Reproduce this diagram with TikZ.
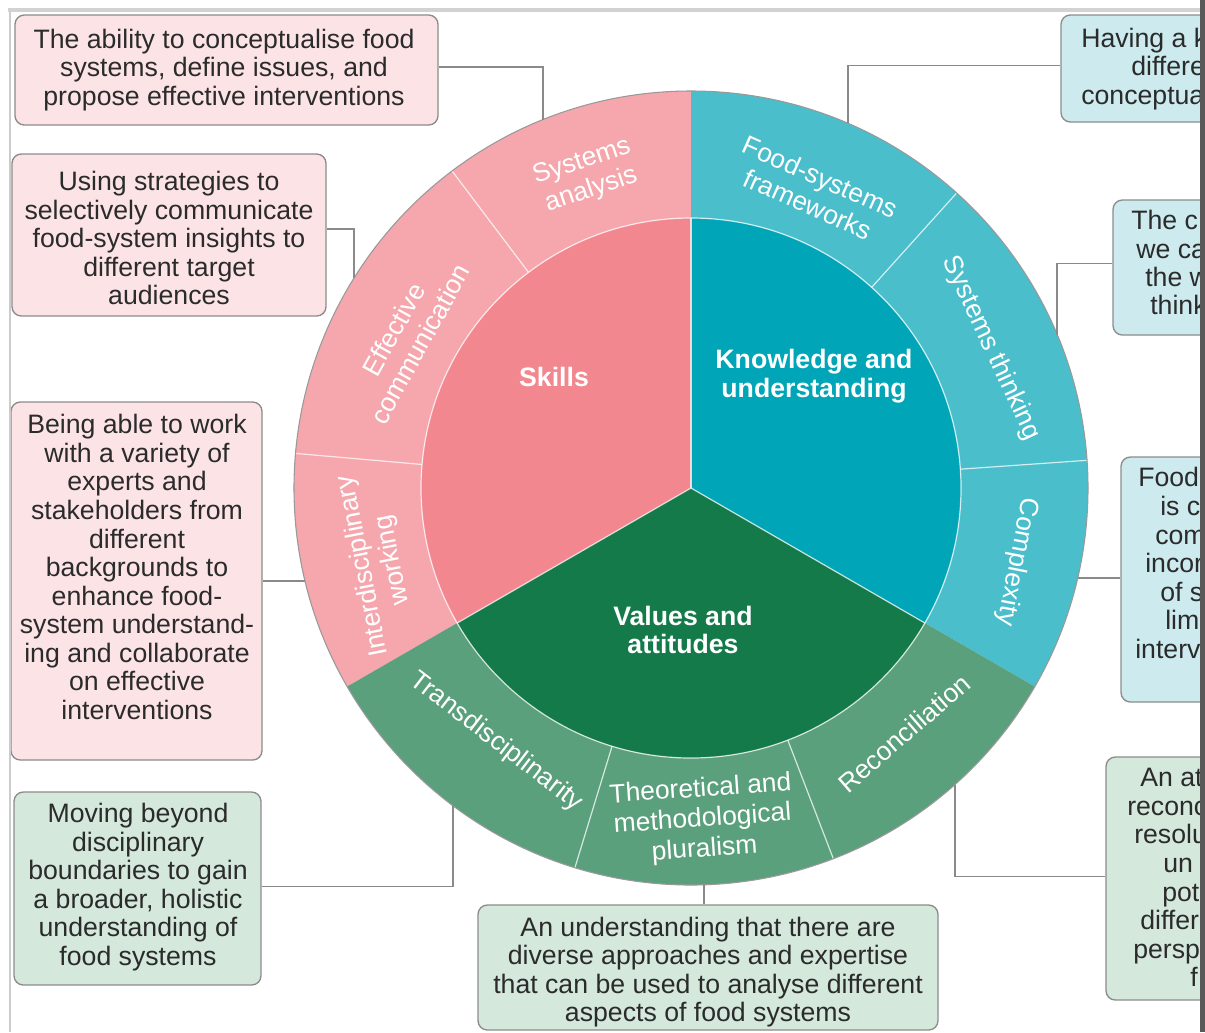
\documentclass[tikz,border=0pt]{standalone}
\usepackage{fontspec}
\setmainfont{Liberation Sans}
\usetikzlibrary{calc,fit}
\definecolor{skin}{HTML}{F2878F}
\definecolor{skout}{HTML}{F5A7AD}
\definecolor{knin}{HTML}{00A5B7}
\definecolor{knout}{HTML}{4BBECB}
\definecolor{vain}{HTML}{157A4A}
\definecolor{vaout}{HTML}{5AA07C}
\definecolor{pinkbox}{HTML}{FCE4E6}
\definecolor{cyanbox}{HTML}{CDEBEF}
\definecolor{greenbox}{HTML}{D4E8DC}
\definecolor{boxline}{HTML}{8C8C8C}
\definecolor{txtc}{HTML}{2B2B2B}
\definecolor{connc}{HTML}{8A8A8A}
\tikzset{
  boxsh/.style={draw=boxline, line width=1pt, rounded corners=7pt, inner sep=0pt},
  pbox/.style={boxsh, fill=pinkbox},
  cbox/.style={boxsh, fill=cyanbox},
  gbox/.style={boxsh, fill=greenbox},
  btxt/.style={align=center, text=txtc, inner sep=0pt, font=\fontsize{20}{21.4}\selectfont},
  rtxt/.style={anchor=base west, text=txtc, inner sep=0pt, font=\fontsize{20}{21.4}\selectfont},
  conn/.style={draw=connc, line width=1pt},
  ringtxt/.style={align=center, text=white, inner sep=0pt, font=\fontsize{19.8}{22.5}\selectfont},
  coretxt/.style={align=center, text=white, inner sep=0pt, font=\fontsize{20}{21.4}\selectfont\bfseries},
  sepl/.style={draw=white, line width=0.9pt, opacity=0.75}
}
\begin{document}
\begin{tikzpicture}[x=0.75pt,y=-0.75pt]
\useasboundingbox (0,0) rectangle (1205,1032);
\fill[white] (0,0) rectangle (1205,1032);
\begin{scope}
\clip (0,0) rectangle (1200,1032);
% ---------- wheel ----------
\begin{scope}[shift={(691,488)}, y=0.75pt]
  % inner sectors
  \fill[skin] (0,0) -- (90:270) arc[start angle=90, end angle=210, radius=202.5pt] -- cycle;
  \fill[knin] (0,0) -- (-30:270) arc[start angle=-30, end angle=90, radius=202.5pt] -- cycle;
  \fill[vain] (0,0) -- (210:270) arc[start angle=210, end angle=330, radius=202.5pt] -- cycle;
  % ring
  \fill[skout] (90:270) arc[start angle=90, end angle=210, radius=202.5pt] -- (210:397) arc[start angle=210, end angle=90, radius=297.75pt] -- cycle;
  \fill[knout] (-30:270) arc[start angle=-30, end angle=90, radius=202.5pt] -- (90:397) arc[start angle=90, end angle=-30, radius=297.75pt] -- cycle;
  \fill[vaout] (210:270) arc[start angle=210, end angle=330, radius=202.5pt] -- (330:397) arc[start angle=330, end angle=210, radius=297.75pt] -- cycle;
  % separators
  \draw[sepl] (0,0) circle[radius=202.5pt];
  \foreach \a in {90,210,330} \draw[sepl] (0,0) -- (\a:270);
  \foreach \a in {127,175,48,4,253,291} \draw[sepl] (\a:270) -- (\a:397);
  \draw[draw=gray!80, line width=0.8pt] (0,0) circle[radius=297.75pt];
  % ring labels
  \node[ringtxt, rotate=18.5] (lsa) at (108.5:329) {Systems\\analysis};
  \node[ringtxt, rotate=61] (lec) at (152:322) {Effective\\communication};
  \node[ringtxt, rotate=101] (liw) at (193.5:322) {Interdisciplinary\\working};
  \node[ringtxt, rotate=-24] (lfs) at (67.5:322) {Food-systems\\frameworks};
  \node[ringtxt, rotate=-65] (lst) at (25:331) {Systems thinking};
  \node[ringtxt, rotate=-101] (lcx) at (-12.8:334) {Complexity};
  \node[ringtxt, rotate=-37.5] (ltd) at (232.5:320) {Transdisciplinarity};
  \node[ringtxt, rotate=4] (ltm) at (272:332) {Theoretical and\\methodological\\pluralism};
  \node[ringtxt, rotate=41] (lrc) at (311:325) {Reconciliation};
\end{scope}
% core labels
\node[coretxt] (skills) at (554,377) {Skills};
\node[coretxt] (know) at (814,376) {Knowledge and\\understanding};
\node[coretxt] (vals) at (683,630) {Values and\\attitudes};
% ---------- boxes ----------
\node[pbox, fit={(15,15) (438,125)}] (b1) {};
\node[pbox, fit={(12,154) (326,316)}] (b2) {};
\node[pbox, fit={(11,402) (262,760)}] (b3) {};
\node[gbox, fit={(14,792) (261,985)}] (b4) {};
\node[gbox, fit={(478,905) (938,1030)}] (b5) {};
\node[cbox, fit={(1061,15) (1290,122)}] (b6) {};
\node[cbox, fit={(1113,200) (1290,335)}] (b7) {};
\node[cbox, fit={(1121,457) (1290,702)}] (b8) {};
\node[gbox, fit={(1106,757) (1290,1000)}] (b9) {};
% texts
\node[btxt] (t1) at (224,70) {The ability to conceptualise food\\systems, define issues, and\\propose effective interventions};
\node[btxt] (t2) at (169,238) {Using strategies to\\selectively communicate\\food-system insights to\\different target\\audiences};
\node[btxt] (t3) at (137,567) {Being able to work\\with a variety of\\experts and\\stakeholders from\\different\\backgrounds to\\enhance food-\\system understand-\\ing and collaborate\\on effective\\interventions};
\node[btxt] (t4) at (138,887) {Moving beyond\\disciplinary\\boundaries to gain\\a broader, holistic\\understanding of\\food systems};
\node[btxt] (t5) at (708,972) {An understanding that there are\\diverse approaches and expertise\\that can be used to analyse different\\aspects of food systems};
% right partial texts
\node[rtxt] (t6a) at (1081,47) {Having a k};
\node[rtxt] (t6b) at (1131,75) {differe};
\node[rtxt] (t6c) at (1081,104) {conceptua};
\node[rtxt] (t7a) at (1131,229) {The c};
\node[rtxt] (t7b) at (1136,258) {we ca};
\node[rtxt] (t7c) at (1145,286) {the w};
\node[rtxt] (t7d) at (1150,314) {think};
\node[rtxt] (t8a) at (1138,486) {Food-};
\node[rtxt] (t8b) at (1160,515) {is c};
\node[rtxt] (t8c) at (1155,544) {com};
\node[rtxt] (t8d) at (1145,572) {incor};
\node[rtxt] (t8e) at (1160,601) {of s};
\node[rtxt] (t8f) at (1165,629) {lim};
\node[rtxt] (t8g) at (1135,658) {interv};
\node[rtxt] (t9a) at (1140,786) {An at};
\node[rtxt] (t9b) at (1127,815) {reconc};
\node[rtxt] (t9c) at (1134,843) {resolu};
\node[rtxt] (t9d) at (1163,872) {un};
\node[rtxt] (t9e) at (1162,901) {pot};
\node[rtxt] (t9f) at (1140,929) {differ};
\node[rtxt] (t9g) at (1133,958) {persp};
\node[rtxt] (t9h) at (1190,986) {f};
% ---------- connectors ----------
\coordinate (c1) at (543,120);
\coordinate (c2) at (354,278);
\coordinate (c3) at (305,581);
\coordinate (c4) at (453,805);
\coordinate (c5) at (704,885);
\coordinate (c6) at (848,123);
\coordinate (c7) at (1057,335);
\coordinate (c8) at (1078,578);
\coordinate (c9) at (955,785);
\draw[conn] ($(b1.east)+(0,-3)$) -| (c1);
\draw[conn] ($(b2.east)+(0,-6)$) -| (c2);
\draw[conn] (b3.east) -- (c3);
\draw[conn] ($(b4.east)+(0,-2)$) -| (c4);
\draw[conn] (c5) -- (c5 |- b5.north);
\draw[conn] ($(b6.west)+(0,-3)$) -| (c6);
\draw[conn] ($(b7.west)+(0,-4)$) -| (c7);
\draw[conn] (c8) -- (c8 -| b8.west);
\draw[conn] ($(b9.west)+(0,-2)$) -| (c9);
\end{scope}
% frame
\fill[gray!35] (8,8) rectangle (1200,12);
\draw[gray!40, line width=1pt] (10,12) -- (10,1032);
\fill[black!65] (1200,0) rectangle (1205,1032);
\end{tikzpicture}
\end{document}
